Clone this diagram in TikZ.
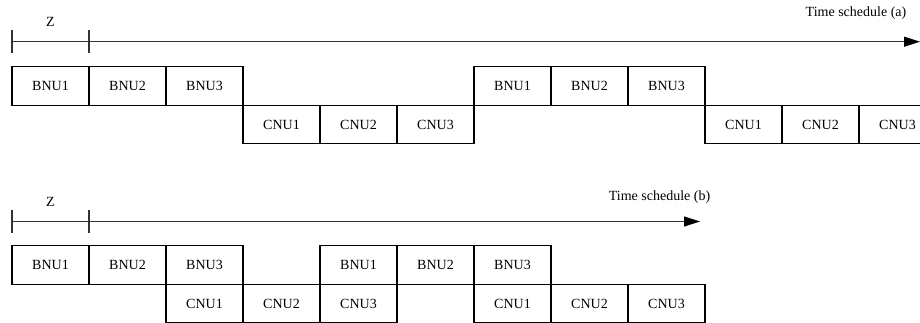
\documentclass[tikz,border=0pt]{standalone}
\usepackage{fontspec}
\setmainfont{Liberation Serif}
\usetikzlibrary{arrows.meta,positioning,calc}
\tikzset{
  unitbox/.style={draw=black, line width=0.8pt, fill=white, align=center,
    minimum width=57.75pt, minimum height=28.9pt, inner sep=0pt, outer sep=0pt,
    font=\fontsize{10.5}{12}\selectfont},
  timearr/.style={-{Triangle[length=12pt, width=7.5pt, color=black]}, line width=0.9pt, black!80},
  tickline/.style={line width=0.9pt, black!80},
  axislabel/.style={font=\fontsize{10.5}{12}\selectfont, inner sep=0pt},
}
\begin{document}
\begin{tikzpicture}[x=0.75pt, y=-0.75pt]
  \clip (0,0) rectangle (920,323);

  % ---- horario (a) ----
  \coordinate (a0) at (12,41.7);
  \coordinate (a1) at (89,41.7);
  \coordinate (aend) at (920,41.7);
  \node[axislabel] (zA) at ($(a0)!0.5!(a1) + (0,-20)$) {Z};
  \node[axislabel] (labA) at (856,13) {Time schedule (a)};

  \node[unitbox, anchor=north west] (aB1) at (12,66.7) {BNU1};
  \node[unitbox, right=0pt of aB1] (aB2) {BNU2};
  \node[unitbox, right=0pt of aB2] (aB3) {BNU3};
  \node[unitbox, anchor=north west] (aC1) at (aB3.south east) {CNU1};
  \node[unitbox, right=0pt of aC1] (aC2) {CNU2};
  \node[unitbox, right=0pt of aC2] (aC3) {CNU3};
  \node[unitbox, anchor=south west] (aB4) at (aC3.north east) {BNU1};
  \node[unitbox, right=0pt of aB4] (aB5) {BNU2};
  \node[unitbox, right=0pt of aB5] (aB6) {BNU3};
  \node[unitbox, anchor=north west] (aC4) at (aB6.south east) {CNU1};
  \node[unitbox, right=0pt of aC4] (aC5) {CNU2};
  \node[unitbox, right=0pt of aC5] (aC6) {CNU3};

  \draw[timearr] (a0) -- (aend);
  \draw[tickline] ($(a0)+(0,-11.5)$) -- ($(a0)+(0,11.5)$);
  \draw[tickline] ($(a1)+(0,-11.5)$) -- ($(a1)+(0,11.5)$);

  % ---- horario (b) ----
  \coordinate (b0) at (12,221.5);
  \coordinate (b1) at (89,221.5);
  \coordinate (bend) at (700,221.5);
  \node[axislabel] (zB) at ($(b0)!0.5!(b1) + (0,-19.5)$) {Z};
  \node[axislabel] (labB) at (659.5,197) {Time schedule (b)};

  \node[unitbox, anchor=north west] (bB1) at (12,245.7) {BNU1};
  \node[unitbox, right=0pt of bB1] (bB2) {BNU2};
  \node[unitbox, right=0pt of bB2] (bB3) {BNU3};
  \node[unitbox, anchor=north west] (bC1) at (bB3.south west) {CNU1};
  \node[unitbox, right=0pt of bC1] (bC2) {CNU2};
  \node[unitbox, right=0pt of bC2] (bC3) {CNU3};
  \node[unitbox, anchor=south west] (bB4) at (bC3.north west) {BNU1};
  \node[unitbox, right=0pt of bB4] (bB5) {BNU2};
  \node[unitbox, right=0pt of bB5] (bB6) {BNU3};
  \node[unitbox, anchor=north west] (bC4) at (bB6.south west) {CNU1};
  \node[unitbox, right=0pt of bC4] (bC5) {CNU2};
  \node[unitbox, right=0pt of bC5] (bC6) {CNU3};

  \draw[timearr] (b0) -- (bend);
  \draw[tickline] ($(b0)+(0,-11.5)$) -- ($(b0)+(0,11.5)$);
  \draw[tickline] ($(b1)+(0,-11.5)$) -- ($(b1)+(0,11.5)$);
\end{tikzpicture}
\end{document}
